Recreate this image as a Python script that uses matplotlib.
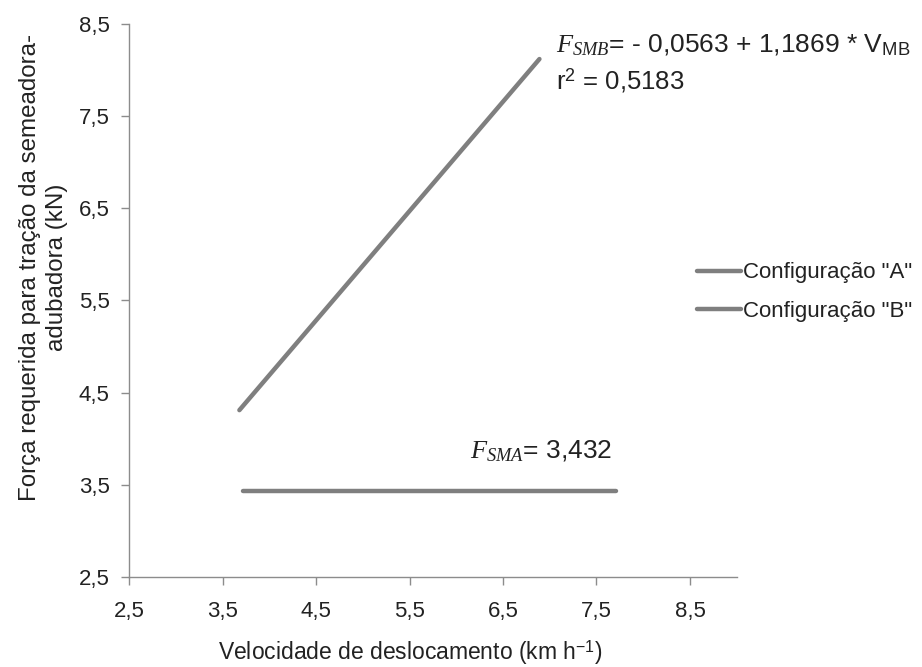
import matplotlib
matplotlib.use("Agg")
import matplotlib.pyplot as plt

plt.rcParams['font.family'] = ['Liberation Sans', 'DejaVu Sans']
plt.rcParams['mathtext.fontset'] = 'custom'
plt.rcParams['mathtext.rm'] = 'Liberation Sans'
plt.rcParams['mathtext.it'] = 'Liberation Serif:italic'

# dados
vel_a = [3.72, 7.71]
forca_a = [3.432, 3.432]
vel_b = [3.68, 6.89]
forca_b = [4.31, 8.12]
ticks = [2.5, 3.5, 4.5, 5.5, 6.5, 7.5, 8.5]
tick_labels = ['2,5', '3,5', '4,5', '5,5', '6,5', '7,5', '8,5']

cor = '#7f7f7f'
eixo = '#8c8c8c'
texto = '#222222'

fig = plt.figure(figsize=(9.22, 6.67), dpi=100)
ax = fig.add_axes([0.140, 0.135, 0.659, 0.829])

ax.plot(vel_a, forca_a, color=cor, lw=3.2, solid_capstyle='round', label='Configuração "A"')
ax.plot(vel_b, forca_b, color=cor, lw=3.2, solid_capstyle='round', label='Configuração "B"')

ax.set_xlim(2.5, 9.0)
ax.set_ylim(2.5, 8.5)
ax.set_xticks(ticks)
ax.set_xticklabels(tick_labels)
ax.set_yticks(ticks)
ax.set_yticklabels(tick_labels)

for s in ['top', 'right']:
    ax.spines[s].set_visible(False)
for s in ['left', 'bottom']:
    ax.spines[s].set_color(eixo)
    ax.spines[s].set_linewidth(1)
ax.tick_params(axis='both', colors=eixo, labelcolor=texto, labelsize=16,
               length=6, width=1, direction='out')
ax.tick_params(axis='x', pad=11)
ax.tick_params(axis='y', pad=8)

ax.set_xlabel('Velocidade de deslocamento (km h$^{-1}$)', fontsize=16.5, color=texto)
ax.xaxis.set_label_coords(0.462, -0.11)
ax.set_ylabel('Força requerida para tração da semeadora-\nadubadora (kN)',
              fontsize=17.4, color=texto, linespacing=1.3)
ax.yaxis.set_label_coords(-0.100, 0.56)

ax.text(7.07, 8.27, r'$F_{SMB}$= - 0,0563 + 1,1869 * V$_{\mathrm{MB}}$',
        fontsize=19, color=texto, va='center', ha='left')
ax.text(7.07, 7.89, r'r$^{2}$ = 0,5183', fontsize=18.5, color=texto,
        va='center', ha='left')
ax.text(6.15, 3.86, r'$F_{SMA}$= 3,432', fontsize=19, color=texto,
        va='center', ha='left')

leg = ax.legend(loc='center left', bbox_to_anchor=(0.934, 0.515), frameon=False,
                fontsize=16, handlelength=2.0, handletextpad=0.1,
                labelspacing=0.8, borderpad=0, borderaxespad=0)
for t in leg.get_texts():
    t.set_color(texto)

fig.savefig('out.png', dpi=100)
